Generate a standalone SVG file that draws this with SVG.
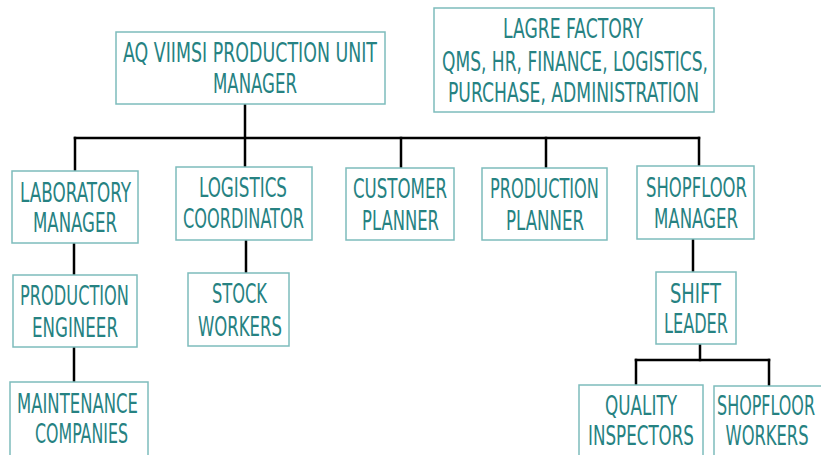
<svg xmlns="http://www.w3.org/2000/svg" width="821" height="455" viewBox="0 0 821 455">
<style>
.box{fill:#ffffff;stroke:#7dbcbc;stroke-width:1.5}
.t{font-family:"DejaVu Sans Condensed","DejaVu Sans",sans-serif;font-size:26px;fill:#268282;text-anchor:middle}
.c{fill:none;stroke:#000000;stroke-width:2.5;stroke-linecap:square}
</style>
<rect width="821" height="455" fill="#ffffff"/>
<g id="connectors">
<path class="c" d="M245,104 V167"/>
<path class="c" d="M75,138 H699"/>
<path class="c" d="M75,138 V171"/>
<path class="c" d="M401,138 V168"/>
<path class="c" d="M546,138 V168"/>
<path class="c" d="M699,138 V166"/>
<path class="c" d="M74,243 V275"/>
<path class="c" d="M74,347 V382"/>
<path class="c" d="M246,240 V273"/>
<path class="c" d="M693,239 V272"/>
<path class="c" d="M700,344 V360"/>
<path class="c" d="M636,360 H769"/>
<path class="c" d="M636,360 V385"/>
<path class="c" d="M769,360 V386"/>
</g>
<g id="unit-manager">
<rect class="box" x="116" y="32" width="269" height="72"/>
<text class="t" x="250" y="62" textLength="254" lengthAdjust="spacingAndGlyphs">AQ VIIMSI PRODUCTION UNIT</text>
<text class="t" x="255" y="93" textLength="84" lengthAdjust="spacingAndGlyphs">MANAGER</text>
</g>
<g id="large-factory">
<rect class="box" x="434" y="8" width="280" height="104"/>
<text class="t" x="573" y="38" textLength="140" lengthAdjust="spacingAndGlyphs">LAGRE FACTORY</text>
<text class="t" x="575" y="71" textLength="266" lengthAdjust="spacingAndGlyphs">QMS, HR, FINANCE, LOGISTICS,</text>
<text class="t" x="573.5" y="102" textLength="251" lengthAdjust="spacingAndGlyphs">PURCHASE, ADMINISTRATION</text>
</g>
<g id="laboratory-manager">
<rect class="box" x="12" y="171" width="126" height="72"/>
<text class="t" x="75.5" y="202" textLength="111" lengthAdjust="spacingAndGlyphs">LABORATORY</text>
<text class="t" x="75" y="232" textLength="84" lengthAdjust="spacingAndGlyphs">MANAGER</text>
</g>
<g id="logistics-coordinator">
<rect class="box" x="176" y="167" width="136" height="73"/>
<text class="t" x="243" y="197" textLength="88" lengthAdjust="spacingAndGlyphs">LOGISTICS</text>
<text class="t" x="243.5" y="228" textLength="121" lengthAdjust="spacingAndGlyphs">COORDINATOR</text>
</g>
<g id="customer-planner">
<rect class="box" x="346" y="168" width="108" height="72"/>
<text class="t" x="400" y="198" textLength="94" lengthAdjust="spacingAndGlyphs">CUSTOMER</text>
<text class="t" x="400.5" y="230" textLength="77" lengthAdjust="spacingAndGlyphs">PLANNER</text>
</g>
<g id="production-planner">
<rect class="box" x="482" y="168" width="125" height="72"/>
<text class="t" x="544.5" y="198" textLength="109" lengthAdjust="spacingAndGlyphs">PRODUCTION</text>
<text class="t" x="545" y="230" textLength="78" lengthAdjust="spacingAndGlyphs">PLANNER</text>
</g>
<g id="shopfloor-manager">
<rect class="box" x="637" y="166" width="117" height="73"/>
<text class="t" x="696.5" y="197" textLength="101" lengthAdjust="spacingAndGlyphs">SHOPFLOOR</text>
<text class="t" x="696" y="228" textLength="84" lengthAdjust="spacingAndGlyphs">MANAGER</text>
</g>
<g id="production-engineer">
<rect class="box" x="13" y="275" width="124" height="72"/>
<text class="t" x="74.5" y="305" textLength="109" lengthAdjust="spacingAndGlyphs">PRODUCTION</text>
<text class="t" x="75" y="337" textLength="86" lengthAdjust="spacingAndGlyphs">ENGINEER</text>
</g>
<g id="stock-workers">
<rect class="box" x="188" y="273" width="101" height="73"/>
<text class="t" x="239.5" y="303" textLength="55" lengthAdjust="spacingAndGlyphs">STOCK</text>
<text class="t" x="240" y="336" textLength="84" lengthAdjust="spacingAndGlyphs">WORKERS</text>
</g>
<g id="maintenance-companies">
<rect class="box" x="10" y="382" width="138" height="80"/>
<text class="t" x="77.5" y="413" textLength="121" lengthAdjust="spacingAndGlyphs">MAINTENANCE</text>
<text class="t" x="81.5" y="443" textLength="93" lengthAdjust="spacingAndGlyphs">COMPANIES</text>
</g>
<g id="shift-leader">
<rect class="box" x="656" y="272" width="80" height="72"/>
<text class="t" x="695.5" y="303" textLength="51" lengthAdjust="spacingAndGlyphs">SHIFT</text>
<text class="t" x="696" y="333" textLength="64" lengthAdjust="spacingAndGlyphs">LEADER</text>
</g>
<g id="quality-inspectors">
<rect class="box" x="579" y="385" width="124" height="80"/>
<text class="t" x="641" y="415" textLength="72" lengthAdjust="spacingAndGlyphs">QUALITY</text>
<text class="t" x="641" y="445" textLength="106" lengthAdjust="spacingAndGlyphs">INSPECTORS</text>
</g>
<g id="shopfloor-workers">
<rect class="box" x="714" y="386" width="118" height="80"/>
<text class="t" x="766" y="415" textLength="98" lengthAdjust="spacingAndGlyphs">SHOPFLOOR</text>
<text class="t" x="767" y="445" textLength="83" lengthAdjust="spacingAndGlyphs">WORKERS</text>
</g>
</svg>
